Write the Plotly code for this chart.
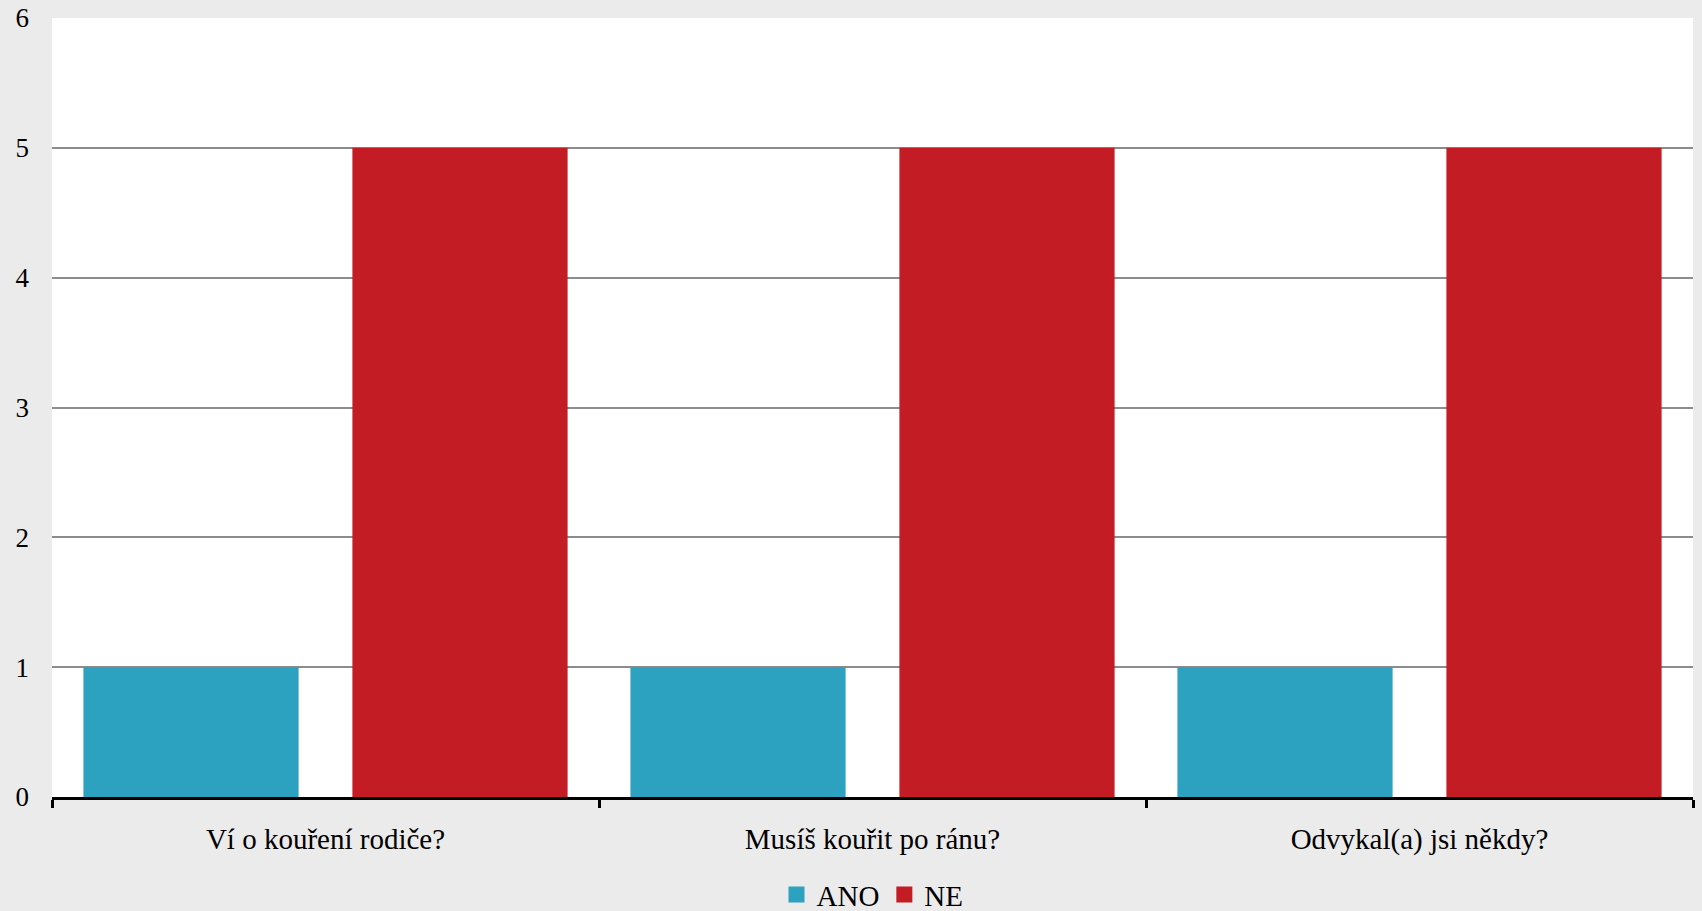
import plotly.graph_objects as go

categories = ["Ví o kouření rodiče?", "Musíš kouřit po ránu?", "Odvykal(a) jsi někdy?"]
series_names = ["ANO", "NE"]
ano_values = [1, 1, 1]
ne_values = [5, 5, 5]
y_ticks = [0, 1, 2, 3, 4, 5, 6]
colors = ["#2CA1C0", "#C41C24"]

FONT = "Liberation Serif"

fig = go.Figure()
for name, vals, col in zip(series_names, [ano_values, ne_values], colors):
    fig.add_trace(go.Bar(name=name, x=categories, y=vals, marker=dict(color=col, line=dict(width=0)),
                         showlegend=False))
# legend entries with larger square swatches
for name, col in zip(series_names, colors):
    fig.add_trace(go.Scatter(name=name, x=[None], y=[None], mode="markers",
                             marker=dict(symbol="square", size=17, color=col), showlegend=True))

fig.update_layout(
    width=1702, height=911,
    margin=dict(l=52, r=9, t=18, b=114, autoexpand=False),
    paper_bgcolor="#EBEBEB",
    plot_bgcolor="#FFFFFF",
    barmode="group",
    bargap=0.0165,
    bargroupgap=0.2,
    font=dict(family=FONT, size=29, color="#000000"),
    legend=dict(orientation="h", x=0.5, xanchor="center", yref="container", y=0.018, yanchor="middle",
                font=dict(family=FONT, size=29), itemwidth=30, itemsizing="trace",
                traceorder="normal", bgcolor="rgba(0,0,0,0)", tracegroupgap=0),
    showlegend=True,
)
fig.update_xaxes(
    showline=True, linecolor="#000000", linewidth=3, automargin=False,
    ticks="outside", ticklen=8, tickwidth=3, tickcolor="#000000",
    tickson="boundaries", showgrid=False, ticklabelstandoff=14,
    tickfont=dict(family=FONT, size=29),
)
fig.update_yaxes(
    range=[0, 6], tickvals=y_ticks, showgrid=True, gridcolor="#8C8C8C", gridwidth=2,
    zeroline=False, showline=False, ticks="", ticklabelstandoff=22, automargin=False,
    tickfont=dict(family=FONT, size=27),
)

fig.write_html("out.html", config={"displayModeBar": False},
               post_script="document.body.style.margin='0';")
